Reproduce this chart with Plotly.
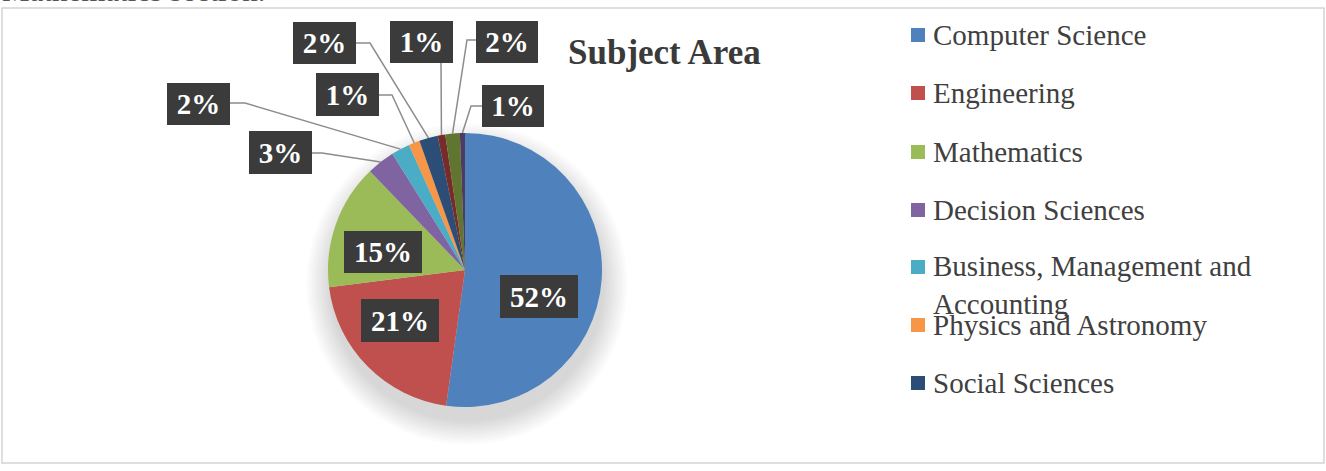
import math
import plotly.graph_objects as go

# ---------------- data ----------------
categories = [
    "Computer Science", "Engineering", "Mathematics", "Decision Sciences",
    "Business, Management and Accounting", "Physics and Astronomy",
    "Social Sciences", "Medicine", "Arts and Humanities", "Energy",
]
shares = [52.2, 20.8, 14.8, 3.3, 2.2, 1.3, 2.2, 0.9, 1.7, 0.6]
legend_shown = 7  # legend in the reference is clipped after 7 entries
title_text = "Subject Area"
caption_text = "Mathematics section."

# ---------------- style / layout ----------------
W, H = 1326, 471
colors = ["#4F81BD", "#C0504D", "#9BBB59", "#8064A2", "#4BACC6", "#F79646",
          "#2C4D75", "#772C2A", "#5F7530", "#4D3B62"]
SERIF = "Liberation Serif, Times New Roman, serif"
CX, CY, R = 465, 270, 137  # pie centre / radius in pixels


def px(x):
    return x / W


def py(y):
    return 1 - y / H


# label boxes (pixel centres) and leader-line routing, per slice index
label_layout = {
    0: dict(c=(539, 296), w=78, h=43),
    1: dict(c=(400, 320), w=78, h=43),
    2: dict(c=(383, 252), w=78, h=42),
    3: dict(c=(280, 153), w=63, h=43, start=(311, 153), elbow=(322, 153)),
    4: dict(c=(198, 104), w=63, h=42, start=(230, 103), elbow=(245, 103)),
    5: dict(c=(347, 95), w=63, h=43, start=(378, 95), elbow=(392, 95)),
    6: dict(c=(324, 43), w=63, h=42, start=(356, 43), elbow=(370, 43)),
    7: dict(c=(421, 42), w=63, h=42, start=(441, 63), elbow=(441, 63)),
    8: dict(c=(507, 42), w=62, h=42, start=(477, 40), elbow=(467, 40)),
    9: dict(c=(513, 106), w=62, h=42, start=(482, 106), elbow=(471, 106)),
}

fig = go.Figure()
fig.add_trace(go.Pie(
    labels=categories, values=shares, sort=False, direction="clockwise",
    rotation=0, marker=dict(colors=colors, line=dict(width=0)),
    textinfo="none", hoverinfo="label+percent", showlegend=False,
    domain=dict(x=[px(CX - R), px(CX + R)], y=[py(CY + R), py(CY - R)]),
))

shapes, annotations = [], []

# soft shadow under the pie
for i in range(10):
    rr = R + 1 + i * 2.5
    shapes.append(dict(type="circle", xref="paper", yref="paper", layer="below",
                       x0=px(CX - rr + 2), x1=px(CX + rr + 2),
                       y0=py(CY + 14 + rr), y1=py(CY + 14 - rr),
                       fillcolor="rgba(0,0,0,0.016)", line=dict(width=0)))

# chart frame
shapes.append(dict(type="rect", xref="paper", yref="paper",
                   x0=px(2), x1=px(1324), y0=py(463), y1=py(8),
                   line=dict(color="#d4d4d4", width=1.5)))

total = sum(shares)
cum = 0.0
for i, v in enumerate(shares):
    mid = (cum + v / 2) / total * 2 * math.pi
    cum += v
    pct = f"{round(v / total * 100)}%"
    L = label_layout[i]
    if "start" in L:
        ex = CX + R * math.sin(mid)
        ey = CY - R * math.cos(mid)
        sx, sy = L["start"]
        bx, by = L["elbow"]
        shapes.append(dict(type="path", xref="paper", yref="paper",
                           path=f"M {px(sx)},{py(sy)} L {px(bx)},{py(by)} L {px(ex)},{py(ey)}",
                           line=dict(color="#8c8c8c", width=1.5)))
    annotations.append(dict(
        x=px(L["c"][0]), y=py(L["c"][1]), xref="paper", yref="paper",
        xanchor="center", yanchor="middle", showarrow=False,
        text=f"<b>{pct}</b>", width=L["w"], height=L["h"], borderpad=0,
        borderwidth=0, bgcolor="#3b3b3b",
        font=dict(family=SERIF, size=29, color="white"),
    ))

# manual legend (clipped after 7 items, as in the reference)
row_y = [35, 93, 152, 210, 267, 325, 383]
for i in range(legend_shown):
    y = row_y[i]
    shapes.append(dict(type="rect", xref="paper", yref="paper",
                       x0=px(911), x1=px(925), y0=py(y + 7), y1=py(y - 7),
                       fillcolor=colors[i], line=dict(width=0)))
    name = categories[i]
    yc = y
    if name.startswith("Business"):
        name = "Business, Management and<br>Accounting"
        yc = y + 17.5
    annotations.append(dict(
        x=px(931), y=py(yc), xref="paper", yref="paper", xanchor="left",
        yanchor="middle", align="left", showarrow=False, text=name,
        font=dict(family=SERIF, size=29, color="#404040"),
    ))

# title
annotations.append(dict(
    x=px(664), y=py(53), xref="paper", yref="paper", xanchor="center",
    yanchor="middle", showarrow=False, text=f"<b>{title_text}</b>",
    font=dict(family=SERIF, size=35, color="#3a3a3a"),
))

# clipped caption line of the surrounding document
annotations.append(dict(
    x=px(0), y=py(-10), xref="paper", yref="paper", xanchor="left",
    yanchor="middle", showarrow=False, text=caption_text,
    font=dict(family=SERIF, size=31, color="#555555"),
))

fig.update_layout(
    width=W, height=H, margin=dict(l=0, r=0, t=0, b=0),
    paper_bgcolor="white", plot_bgcolor="white",
    shapes=shapes, annotations=annotations, showlegend=False,
)

fig.write_html("out.html")
